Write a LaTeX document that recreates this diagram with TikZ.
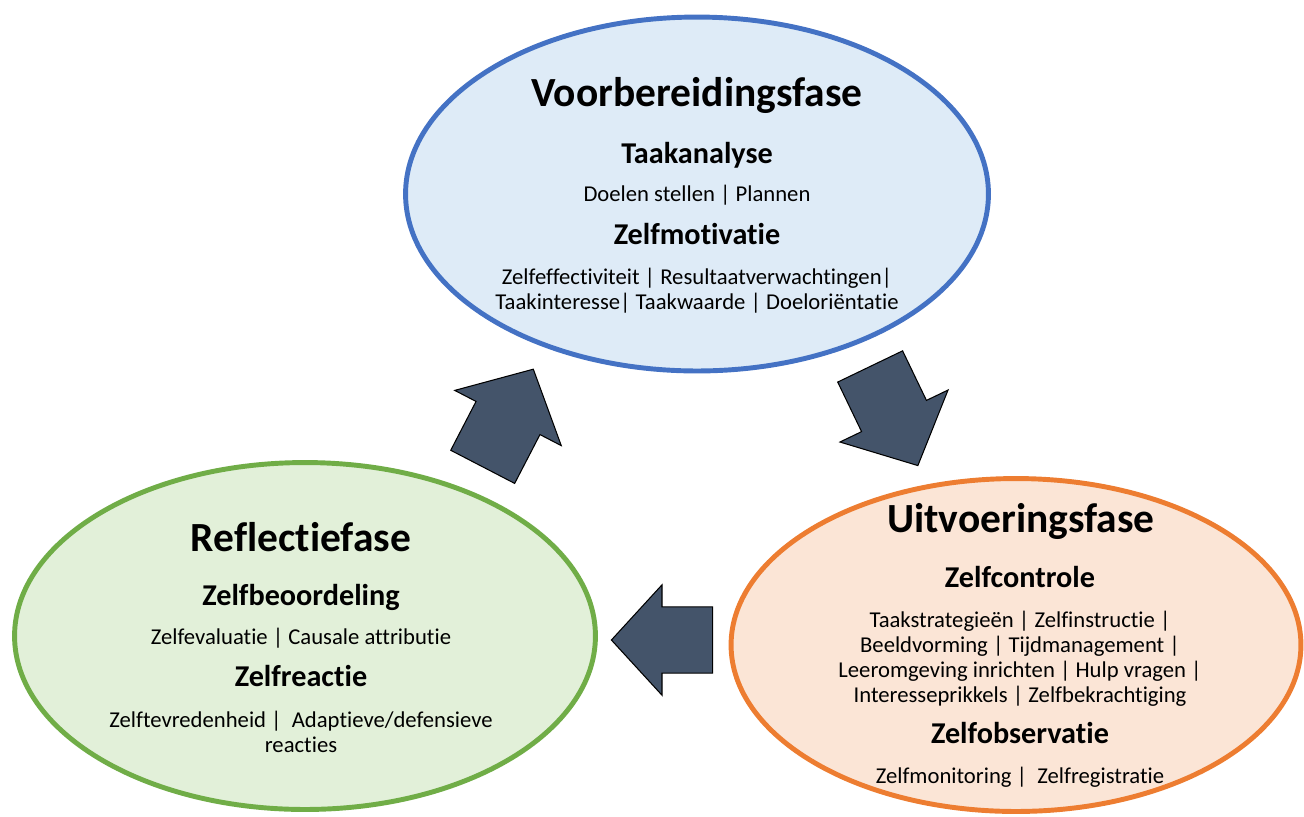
\documentclass[tikz,border=0pt]{standalone}
\usepackage{fontspec}
\setmainfont{Carlito}[Ligatures=NoCommon]
\usetikzlibrary{shapes.geometric}
\definecolor{blauw}{HTML}{4472C4}
\definecolor{blauwlicht}{HTML}{DEEBF7}
\definecolor{groen}{HTML}{70AD47}
\definecolor{groenlicht}{HTML}{E2F0D9}
\definecolor{oranje}{HTML}{ED7D31}
\definecolor{oranjelicht}{HTML}{FBE5D6}
\definecolor{pijlgrijs}{HTML}{44546A}
\tikzset{
  fase/.style={draw, ellipse, line width=2.8pt, inner sep=0pt},
  titel/.style={anchor=base, font=\fontsize{23.6}{28}\selectfont\bfseries},
  kop/.style={anchor=base, font=\fontsize{17.2}{20}\selectfont\bfseries},
  tekst/.style={anchor=base, align=center, font=\fontsize{12.9}{14.2}\selectfont},
  pijl/.style={fill=pijlgrijs, draw=black, line width=0.6pt, line join=miter},
  pics/blokpijl/.style={code={
    \draw[pijl] (-55,-36) -- (0,-36) -- (0,-60) -- (55,0) -- (0,60) -- (0,36) -- (-55,36) -- cycle;
  }}
}

\begin{document}
\begin{tikzpicture}[x=0.02cm, y=-0.02cm]
  \useasboundingbox (0,0) rectangle (1304,816);
  % de drie fasen
  \node[fase, draw=blauw, fill=blauwlicht, minimum width=11.66cm, minimum height=7.08cm] (voorb) at (697,194) {};
  \node[fase, draw=groen, fill=groenlicht, minimum width=11.62cm, minimum height=6.94cm] (refl) at (305,636) {};
  \node[fase, draw=oranje, fill=oranjelicht, minimum width=11.4cm, minimum height=6.66cm] (uitv) at (1016,645) {};
  % pijlen
  \pic[rotate=-64.3] at (894,416) {blokpijl};
  \pic[rotate=180, scale=0.92] at (662,640) {blokpijl};
  \pic[rotate=62.6] at (508,418) {blokpijl};
  % voorbereidingsfase
  \node[titel] (voorbT) at (697,106) {Voorbereidingsfase};
  \node[kop] (taak) at (697,163) {Taakanalyse};
  \node[tekst] (taakT) at (697,201) {Doelen stellen | Plannen};
  \node[kop] (motiv) at (697,244) {Zelfmotivatie};
  \node[tekst] (motivT) at (697,309) {Zelfeffectiviteit | Resultaatverwachtingen|\\Taakinteresse| Taakwaarde | Doeloriëntatie};
  % reflectiefase
  \node[titel] (reflT) at (301,551) {Reflectiefase};
  \node[kop] (beoord) at (301,605) {Zelfbeoordeling};
  \node[tekst] (beoordT) at (301,644) {Zelfevaluatie | Causale attributie};
  \node[kop] (react) at (301,686) {Zelfreactie};
  \node[tekst] (reactT) at (301,752) {Zelftevredenheid |\ \ Adaptieve/defensieve\\reacties};
  % uitvoeringsfase
  \node[titel] (uitvT) at (1021,532) {Uitvoeringsfase};
  \node[kop] (contr) at (1020,587) {Zelfcontrole};
  \node[tekst] (contrT) at (1020,702) {Taakstrategieën | Zelfinstructie |\\Beeldvorming | Tijdmanagement |\\Leeromgeving inrichten | Hulp vragen |\\Interesseprikkels | Zelfbekrachtiging};
  \node[kop] (obs) at (1020,743) {Zelfobservatie};
  \node[tekst] (obsT) at (1020,783) {Zelfmonitoring |\ \ Zelfregistratie};
\end{tikzpicture}
\end{document}
